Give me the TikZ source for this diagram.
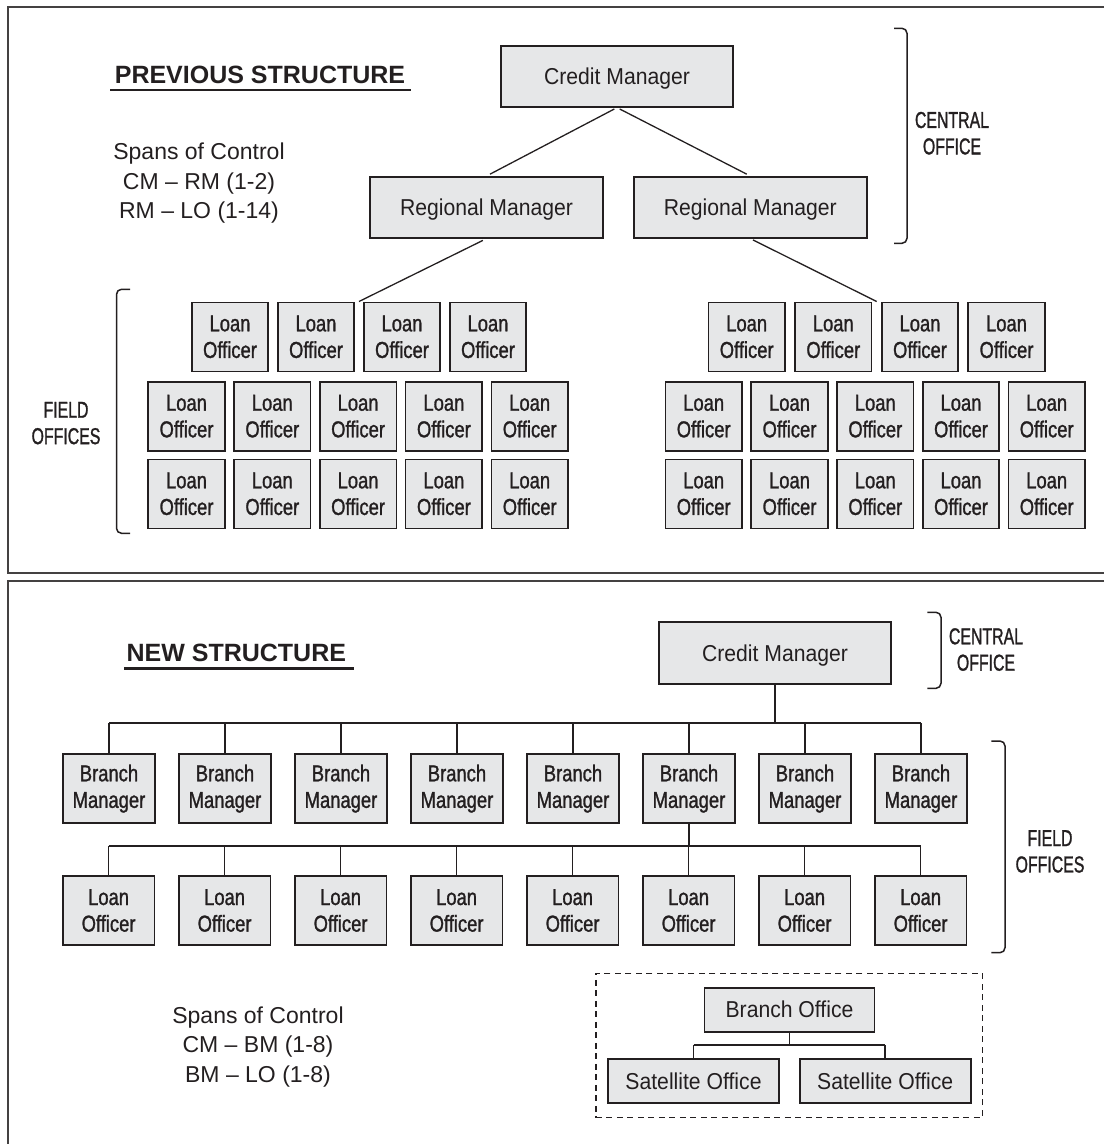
\documentclass[tikz,border=0pt]{standalone}
\usepackage{fontspec}
\setmainfont{Liberation Sans}
\newfontfamily\fntNorm{Liberation Sans}
\newfontfamily\fntBox[FakeStretch=0.92]{Liberation Sans}
\newfontfamily\fntCond[FakeStretch=0.80,FakeBold=1.2]{Liberation Sans}
\newfontfamily\fntCaps[FakeStretch=0.69,FakeBold=1.2]{Liberation Sans}
\usetikzlibrary{calc}
\definecolor{ink}{HTML}{231F20}
\definecolor{boxfill}{HTML}{E6E7E8}
\begin{document}
\begin{tikzpicture}[x=1pt,y=-1pt,
  every node/.style={text=ink},
  boxbase/.style={draw=ink, line width=1.6pt, fill=boxfill, inner sep=0pt},
  lobox/.style={boxbase, align=center, minimum width=76.5pt, minimum height=69pt,
     font=\fntCond\fontsize{23}{26.6}\selectfont},
  bmbox/.style={boxbase, align=center, minimum width=92pt, minimum height=69pt,
     font=\fntCond\fontsize{23}{26.6}\selectfont},
  wide/.style={boxbase, text height=16.5pt, text depth=0pt,
     font=\fntBox\fontsize{23}{26}\selectfont},
  link/.style={draw=ink, line width=1.3pt},
  tree/.style={draw=ink, line width=1.5pt},
  frame/.style={draw=ink!85, line width=2pt},
  brk/.style={draw=ink, line width=1.5pt, rounded corners=5pt},
  lbl/.style={font=\fntCaps\fontsize{23}{26.4}\selectfont, align=center, inner sep=0pt, anchor=north},
  spans/.style={font=\fntNorm\fontsize{23}{29.3}\selectfont, align=center, inner sep=0pt, anchor=north},
  title/.style={font=\bfseries\fontsize{25}{30}\selectfont, inner sep=0pt, anchor=base}
]
\useasboundingbox (0,0) rectangle (1104,1144);

% frames
\draw[frame] (1104,6.5) -- (8,6.5) -- (8,573.3) -- (1104,573.3);
\draw[frame] (1104,581.3) -- (8,581.3) -- (8,1144);

% ================= PREVIOUS STRUCTURE =================
\node[title] (tA) at (260,83.3) {PREVIOUS STRUCTURE};
\draw[line width=2.5pt, draw=ink] (110,90) -- (411,90);

\node[spans] (spA) at (199,143) {Spans of Control\\CM – RM (1-2)\\RM – LO (1-14)};

\node[wide, minimum width=232pt, minimum height=61pt] (cmA) at (617,76.3) {Credit Manager};
\node[wide, minimum width=233pt, minimum height=61pt] (rmL) at (486.5,207.3) {Regional Manager};
\node[wide, minimum width=233pt, minimum height=61pt] (rmR) at (750.3,207.3) {Regional Manager};

\draw[brk] (894,28.3) -- (907,28.3) -- (907,243.3) -- (894,243.3);
\node[lbl] (coA) at (952,111.7) {CENTRAL\\OFFICE};

\draw[brk] (130,289.3) -- (116.5,289.3) -- (116.5,533.3) -- (130,533.3);
\node[lbl] (foA) at (66,401.7) {FIELD\\OFFICES};

% left group of loan officers
\foreach \i/\x in {1/230,2/316,3/402,4/488}
  \node[lobox] (loLa\i) at (\x,336.8) {Loan\\Officer};
\foreach \i/\x in {1/186.5,2/272.3,3/358.1,4/443.9,5/529.7}{
  \node[lobox] (loLb\i) at (\x,416.2) {Loan\\Officer};
  \node[lobox] (loLc\i) at (\x,493.8) {Loan\\Officer};
}
% right group of loan officers
\foreach \i/\x in {1/746.7,2/833.3,3/920,4/1006.5}
  \node[lobox] (loRa\i) at (\x,336.8) {Loan\\Officer};
\foreach \i/\x in {1/703.7,2/789.5,3/875.3,4/961,5/1046.7}{
  \node[lobox] (loRb\i) at (\x,416.2) {Loan\\Officer};
  \node[lobox] (loRc\i) at (\x,493.8) {Loan\\Officer};
}

\draw[link, shorten <=3pt, shorten >=4pt] (cmA.south) -- (rmL.north);
\draw[link, shorten <=3pt, shorten >=4pt] (cmA.south) -- (rmR.north);
\coordinate (gL) at ($(loLa2.north east)!0.5!(loLa3.north west)$);
\coordinate (gR) at ($(loRa2.north east)!0.5!(loRa3.north west)$);
\draw[link, shorten <=4pt] (rmL.south) -- (gL);
\draw[link, shorten <=3pt] (rmR.south) -- (gR);

% ================= NEW STRUCTURE =================
\node[title] (tB) at (236.3,661.7) {NEW STRUCTURE};
\draw[line width=2.5pt, draw=ink] (124,668.3) -- (353.6,668.3);

\node[wide, minimum width=232.5pt, minimum height=61.5pt] (cmB) at (775,653) {Credit Manager};

\draw[brk] (927.4,612.3) -- (941,612.3) -- (941,688.3) -- (927.4,688.3);
\node[lbl] (coB) at (986,628) {CENTRAL\\OFFICE};

\draw[brk] (991.4,741) -- (1005,741) -- (1005,952.7) -- (991.4,952.7);
\node[lbl] (foB) at (1050,830) {FIELD\\OFFICES};

\foreach \i in {1,...,8}{
  \node[bmbox] (bm\i) at ({109+116*(\i-1)},788.6) {Branch\\Manager};
  \node[bmbox, minimum width=91.5pt] (lo\i) at ({108.6+116*(\i-1)},910.5) {Loan\\Officer};
}

\coordinate (busA) at (0,723);
\coordinate (busB) at (0,846);
\coordinate (busC) at (0,1045);

\draw[tree] (cmB.south) -- (cmB.south |- busA);
\draw[tree] (bm1.north |- busA) -- (bm8.north |- busA);
\foreach \i in {1,...,8}
  \draw[tree] (bm\i.north) -- (bm\i.north |- busA);
\draw[tree] (bm6.south) -- (bm6.south |- busB);
\draw[tree] (lo1.north |- busB) -- (lo8.north |- busB);
\foreach \i in {1,...,8}
  \draw[tree] (lo\i.north) -- (lo\i.north |- busB);

% satellite group
\node[draw=ink, line width=1.5pt, dash pattern=on 6pt off 4.5pt, minimum width=386.5pt, minimum height=144.4pt, inner sep=0pt] (grp) at (789.2,1045.5) {};
\node[wide, minimum width=170pt, minimum height=44pt] (bo) at (789.5,1009.7) {Branch Office};
\node[wide, minimum width=170.5pt, minimum height=43.7pt] (sat1) at (693.5,1080.9) {Satellite Office};
\node[wide, minimum width=171pt, minimum height=43.7pt] (sat2) at (885.2,1080.9) {Satellite Office};
\draw[tree] (bo.south) -- (bo.south |- busC);
\draw[tree] (sat1.north |- busC) -- (sat2.north |- busC);
\draw[tree] (sat1.north) -- (sat1.north |- busC);
\draw[tree] (sat2.north) -- (sat2.north |- busC);

\node[spans] (spB) at (258,1006.7) {Spans of Control\\CM – BM (1-8)\\BM – LO (1-8)};
\end{tikzpicture}
\end{document}
